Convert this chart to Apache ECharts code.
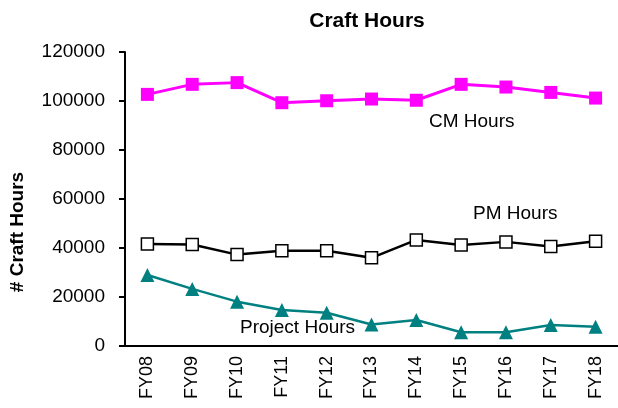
<!DOCTYPE html>
<html style="height: 100%">
<head>
<meta charset="utf-8" />
<title>Craft Hours</title>
<script type="text/javascript" src="https://cdn.jsdelivr.net/npm/echarts@6/dist/echarts.min.js"></script>
</head>
<body style="height: 100%; margin: 0; background: #fff;">
<div id="container" style="width: 618px; height: 408px"></div>
<script type="text/javascript">
var years = ['FY08', 'FY09', 'FY10', 'FY11', 'FY12', 'FY13', 'FY14', 'FY15', 'FY16', 'FY17', 'FY18'];
var cmHours = [102700, 106800, 107500, 99300, 100100, 100800, 100300, 106800, 105700, 103500, 101200];
var pmHours = [41600, 41400, 37300, 38900, 38900, 36000, 43300, 41200, 42500, 40600, 42800];
var projectHours = [29000, 23300, 18100, 14700, 13600, 8800, 10600, 5600, 5600, 8600, 7900];

var myChart = echarts.init(document.getElementById('container'));
var font = 'Liberation Sans, Arial, sans-serif';
var option = {
    animation: false,
    title: {
        text: 'Craft Hours',
        left: 362,
        top: 6,
        textAlign: 'center',
        textStyle: { fontFamily: font, fontSize: 21, fontWeight: 'bold', color: '#000' }
    },
    grid: { left: 125, top: 52, width: 494, bottom: 62 },
    xAxis: {
        type: 'category',
        data: years,
        boundaryGap: true,
        axisLine: { lineStyle: { color: '#000', width: 2 } },
        axisTick: { length: 6, lineStyle: { color: '#000', width: 2 } },
        axisLabel: { rotate: 90, color: '#000', fontFamily: font, fontSize: 18, margin: 10 }
    },
    yAxis: {
        type: 'value',
        min: 0,
        max: 120000,
        interval: 20000,
        axisLine: { show: true, lineStyle: { color: '#000', width: 2 } },
        axisTick: { show: true, length: 6, lineStyle: { color: '#000', width: 2 } },
        axisLabel: { color: '#000', fontFamily: font, fontSize: 19, margin: 20, formatter: function (v) { return String(v); } },
        splitLine: { show: false }
    },
    series: [
        {
            name: 'CM Hours',
            type: 'line',
            data: cmHours,
            symbol: 'rect',
            symbolSize: 13,
            itemStyle: { color: '#ff00ff' },
            lineStyle: { color: '#ff00ff', width: 3 }
        },
        {
            name: 'PM Hours',
            type: 'line',
            data: pmHours,
            symbol: 'rect',
            symbolSize: 12,
            itemStyle: { color: '#fff', borderColor: '#000', borderWidth: 1.5 },
            lineStyle: { color: '#000', width: 2.5 }
        },
        {
            name: 'Project Hours',
            type: 'line',
            data: projectHours,
            symbol: 'triangle',
            symbolSize: 14,
            itemStyle: { color: '#008080' },
            lineStyle: { color: '#008080', width: 2.5 }
        }
    ],
    graphic: [
        {
            type: 'text', x: 18, y: 232, rotation: Math.PI / 2,
            style: { text: '# Craft Hours', font: 'bold 19px ' + font, fill: '#000', align: 'center', verticalAlign: 'middle' }
        },
        { type: 'text', left: 429, top: 112, style: { text: 'CM Hours', font: '19px ' + font, fill: '#000' } },
        { type: 'text', left: 473, top: 204, style: { text: 'PM Hours', font: '19px ' + font, fill: '#000' } },
        { type: 'text', left: 240, top: 318, style: { text: 'Project Hours', font: '19px ' + font, fill: '#000' } }
    ]
};
myChart.setOption(option);
</script>
</body>
</html>
